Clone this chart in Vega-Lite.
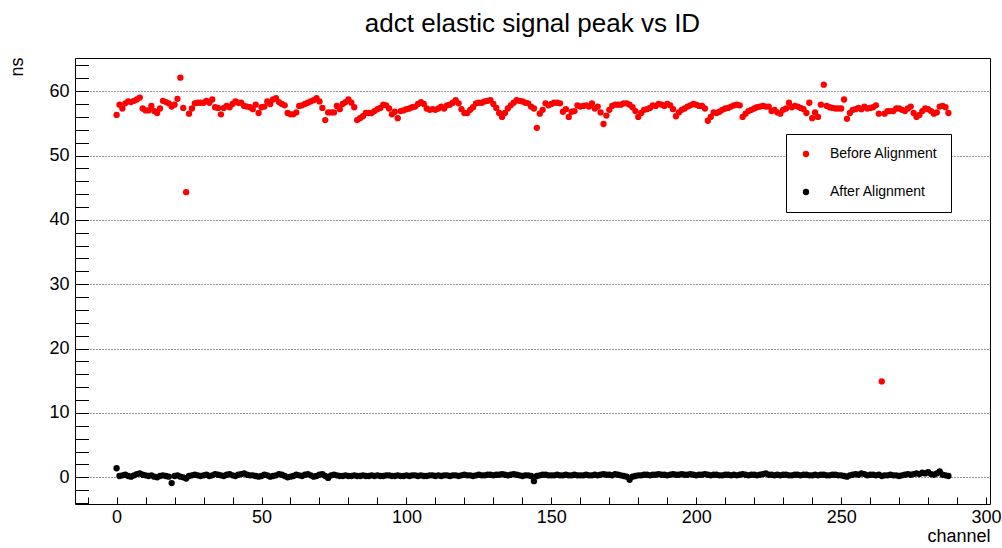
{
"$schema": "https://vega.github.io/schema/vega-lite/v6.json",
"width": 915, "height": 446,
"autosize": {"type": "none"},
"padding": {"left": 75, "top": 58, "right": 12, "bottom": 44},
"background": "white",
"title": {"text": "adct elastic signal peak vs ID", "fontSize": 26, "font": "Liberation Sans", "fontWeight": "normal", "anchor": "middle", "baseline": "alphabetic", "offset": -2, "color": "black"},
"config": {"view": {"stroke": "black"}, "font": "Liberation Sans"},
"datasets": {
"before": [
{"c":0,"v":56.3},{"c":1,"v":57.9},{"c":2,"v":57.3},{"c":3,"v":58.1},{"c":4,"v":58.4},{"c":5,"v":58.3},{"c":6,"v":58.5},{"c":7,"v":58.7},{"c":8,"v":59.0},{"c":9,"v":57.3},
{"c":10,"v":57.0},{"c":11,"v":57.0},{"c":12,"v":57.7},{"c":13,"v":56.9},{"c":14,"v":56.6},{"c":15,"v":57.3},{"c":16,"v":58.5},{"c":17,"v":58.3},{"c":18,"v":58.1},{"c":19,"v":57.6},
{"c":20,"v":57.9},{"c":21,"v":58.8},{"c":22,"v":62.1},{"c":23,"v":57.4},{"c":24,"v":44.3},{"c":25,"v":56.5},{"c":26,"v":57.3},{"c":27,"v":58.1},{"c":28,"v":58.2},{"c":29,"v":58.2},
{"c":30,"v":58.2},{"c":31,"v":58.5},{"c":32,"v":58.2},{"c":33,"v":58.7},{"c":34,"v":57.5},{"c":35,"v":57.4},{"c":36,"v":56.4},{"c":37,"v":57.4},{"c":38,"v":57.7},{"c":39,"v":57.5},
{"c":40,"v":58.0},{"c":41,"v":58.4},{"c":42,"v":58.2},{"c":43,"v":58.2},{"c":44,"v":57.7},{"c":45,"v":57.6},{"c":46,"v":57.5},{"c":47,"v":57.2},{"c":48,"v":57.9},{"c":49,"v":56.6},
{"c":50,"v":57.5},{"c":51,"v":57.6},{"c":52,"v":58.4},{"c":53,"v":58.0},{"c":54,"v":58.7},{"c":55,"v":58.9},{"c":56,"v":58.3},{"c":57,"v":58.0},{"c":58,"v":57.8},{"c":59,"v":56.6},
{"c":60,"v":56.4},{"c":61,"v":56.4},{"c":62,"v":56.7},{"c":63,"v":57.7},{"c":64,"v":57.8},{"c":65,"v":58.0},{"c":66,"v":58.2},{"c":67,"v":58.4},{"c":68,"v":58.6},{"c":69,"v":58.9},
{"c":70,"v":58.4},{"c":71,"v":57.4},{"c":72,"v":55.5},{"c":73,"v":56.7},{"c":74,"v":56.7},{"c":75,"v":56.7},{"c":76,"v":57.7},{"c":77,"v":57.2},{"c":78,"v":58.0},{"c":79,"v":58.3},
{"c":80,"v":58.7},{"c":81,"v":58.2},{"c":82,"v":57.5},{"c":83,"v":55.5},{"c":84,"v":55.8},{"c":85,"v":56.1},{"c":86,"v":56.6},{"c":87,"v":56.6},{"c":88,"v":56.6},{"c":89,"v":56.9},
{"c":90,"v":57.2},{"c":91,"v":57.4},{"c":92,"v":57.9},{"c":93,"v":57.8},{"c":94,"v":57.3},{"c":95,"v":56.4},{"c":96,"v":56.8},{"c":97,"v":55.8},{"c":98,"v":56.9},{"c":99,"v":57.0},
{"c":100,"v":57.2},{"c":101,"v":57.3},{"c":102,"v":57.5},{"c":103,"v":57.6},{"c":104,"v":58.0},{"c":105,"v":58.3},{"c":106,"v":58.0},{"c":107,"v":57.3},{"c":108,"v":57.1},{"c":109,"v":57.2},
{"c":110,"v":57.1},{"c":111,"v":57.3},{"c":112,"v":57.6},{"c":113,"v":57.3},{"c":114,"v":57.8},{"c":115,"v":57.9},{"c":116,"v":58.2},{"c":117,"v":58.6},{"c":118,"v":58.1},{"c":119,"v":57.2},
{"c":120,"v":56.6},{"c":121,"v":56.6},{"c":122,"v":57.1},{"c":123,"v":57.5},{"c":124,"v":58.1},{"c":125,"v":58.2},{"c":126,"v":58.2},{"c":127,"v":58.4},{"c":128,"v":58.5},{"c":129,"v":58.6},
{"c":130,"v":58.0},{"c":131,"v":57.4},{"c":132,"v":56.6},{"c":133,"v":56.0},{"c":134,"v":56.6},{"c":135,"v":57.3},{"c":136,"v":57.8},{"c":137,"v":58.2},{"c":138,"v":58.6},{"c":139,"v":58.5},
{"c":140,"v":58.4},{"c":141,"v":58.2},{"c":142,"v":58.1},{"c":143,"v":57.6},{"c":144,"v":57.3},{"c":145,"v":54.3},{"c":146,"v":56.5},{"c":147,"v":57.1},{"c":148,"v":58.1},{"c":149,"v":57.8},
{"c":150,"v":58.0},{"c":151,"v":58.2},{"c":152,"v":58.2},{"c":153,"v":58.1},{"c":154,"v":56.8},{"c":155,"v":57.2},{"c":156,"v":56.0},{"c":157,"v":56.8},{"c":158,"v":56.9},{"c":159,"v":57.8},
{"c":160,"v":57.6},{"c":161,"v":57.7},{"c":162,"v":57.8},{"c":163,"v":57.6},{"c":164,"v":58.1},{"c":165,"v":57.3},{"c":166,"v":57.6},{"c":167,"v":56.7},{"c":168,"v":54.9},{"c":169,"v":56.2},
{"c":170,"v":57.1},{"c":171,"v":57.7},{"c":172,"v":57.9},{"c":173,"v":57.9},{"c":174,"v":57.9},{"c":175,"v":58.1},{"c":176,"v":58.1},{"c":177,"v":57.9},{"c":178,"v":57.5},{"c":179,"v":56.9},
{"c":180,"v":56.0},{"c":181,"v":56.6},{"c":182,"v":57.1},{"c":183,"v":57.2},{"c":184,"v":57.4},{"c":185,"v":57.8},{"c":186,"v":57.7},{"c":187,"v":58.0},{"c":188,"v":57.9},{"c":189,"v":57.7},
{"c":190,"v":58.0},{"c":191,"v":57.8},{"c":192,"v":57.2},{"c":193,"v":56.1},{"c":194,"v":56.7},{"c":195,"v":57.1},{"c":196,"v":57.3},{"c":197,"v":57.6},{"c":198,"v":57.8},{"c":199,"v":58.0},
{"c":200,"v":57.9},{"c":201,"v":57.7},{"c":202,"v":57.7},{"c":203,"v":57.3},{"c":204,"v":55.4},{"c":205,"v":56.0},{"c":206,"v":56.7},{"c":207,"v":56.6},{"c":208,"v":56.8},{"c":209,"v":57.1},
{"c":210,"v":57.3},{"c":211,"v":57.4},{"c":212,"v":57.6},{"c":213,"v":57.8},{"c":214,"v":57.9},{"c":215,"v":57.8},{"c":216,"v":56.0},{"c":217,"v":56.5},{"c":218,"v":56.9},{"c":219,"v":57.1},
{"c":220,"v":57.3},{"c":221,"v":57.5},{"c":222,"v":57.6},{"c":223,"v":57.7},{"c":224,"v":57.6},{"c":225,"v":57.6},{"c":226,"v":56.9},{"c":227,"v":57.1},{"c":228,"v":56.7},{"c":229,"v":56.5},
{"c":230,"v":57.1},{"c":231,"v":57.3},{"c":232,"v":58.2},{"c":233,"v":57.5},{"c":234,"v":57.7},{"c":235,"v":57.6},{"c":236,"v":57.4},{"c":237,"v":57.2},{"c":238,"v":56.6},{"c":239,"v":58.2},
{"c":240,"v":55.8},{"c":241,"v":56.7},{"c":242,"v":56.0},{"c":243,"v":57.9},{"c":244,"v":61.0},{"c":245,"v":57.7},{"c":246,"v":57.5},{"c":247,"v":57.4},{"c":248,"v":57.3},{"c":249,"v":57.3},
{"c":250,"v":57.3},{"c":251,"v":58.7},{"c":252,"v":55.7},{"c":253,"v":56.6},{"c":254,"v":57.1},{"c":255,"v":57.2},{"c":256,"v":57.4},{"c":257,"v":57.2},{"c":258,"v":57.6},{"c":259,"v":57.3},
{"c":260,"v":57.4},{"c":261,"v":57.5},{"c":262,"v":57.8},{"c":263,"v":56.5},{"c":264,"v":14.9},{"c":265,"v":56.5},{"c":266,"v":56.9},{"c":267,"v":56.9},{"c":268,"v":56.9},{"c":269,"v":57.3},
{"c":270,"v":57.3},{"c":271,"v":57.1},{"c":272,"v":56.9},{"c":273,"v":57.3},{"c":274,"v":57.6},{"c":275,"v":56.6},{"c":276,"v":56.0},{"c":277,"v":56.3},{"c":278,"v":56.9},{"c":279,"v":57.3},
{"c":280,"v":57.2},{"c":281,"v":56.9},{"c":282,"v":56.5},{"c":283,"v":56.7},{"c":284,"v":57.6},{"c":285,"v":57.7},{"c":286,"v":57.5},{"c":287,"v":56.6}
],
"after": [
{"c":0,"v":1.4},{"c":1,"v":0.2},{"c":2,"v":0.3},{"c":3,"v":0.4},{"c":4,"v":0.2},{"c":5,"v":0.1},{"c":6,"v":0.3},{"c":7,"v":0.5},{"c":8,"v":0.6},{"c":9,"v":0.4},
{"c":10,"v":0.3},{"c":11,"v":0.2},{"c":12,"v":0.3},{"c":13,"v":0.1},{"c":14,"v":0.0},{"c":15,"v":0.2},{"c":16,"v":0.3},{"c":17,"v":0.2},{"c":18,"v":0.1},{"c":19,"v":-0.9},
{"c":20,"v":0.2},{"c":21,"v":0.3},{"c":22,"v":0.1},{"c":23,"v":0.0},{"c":24,"v":-0.2},{"c":25,"v":0.2},{"c":26,"v":0.3},{"c":27,"v":0.4},{"c":28,"v":0.3},{"c":29,"v":0.2},
{"c":30,"v":0.3},{"c":31,"v":0.4},{"c":32,"v":0.2},{"c":33,"v":0.3},{"c":34,"v":0.5},{"c":35,"v":0.4},{"c":36,"v":0.3},{"c":37,"v":0.2},{"c":38,"v":0.4},{"c":39,"v":0.5},
{"c":40,"v":0.3},{"c":41,"v":0.2},{"c":42,"v":0.4},{"c":43,"v":0.5},{"c":44,"v":0.6},{"c":45,"v":0.4},{"c":46,"v":0.3},{"c":47,"v":0.3},{"c":48,"v":0.2},{"c":49,"v":0.1},
{"c":50,"v":0.2},{"c":51,"v":0.4},{"c":52,"v":0.3},{"c":53,"v":0.1},{"c":54,"v":0.2},{"c":55,"v":0.3},{"c":56,"v":0.5},{"c":57,"v":0.4},{"c":58,"v":0.2},{"c":59,"v":0.0},
{"c":60,"v":0.1},{"c":61,"v":0.2},{"c":62,"v":0.4},{"c":63,"v":0.3},{"c":64,"v":0.2},{"c":65,"v":0.4},{"c":66,"v":0.5},{"c":67,"v":0.3},{"c":68,"v":0.1},{"c":69,"v":0.2},
{"c":70,"v":0.4},{"c":71,"v":0.5},{"c":72,"v":0.2},{"c":73,"v":-0.1},{"c":74,"v":0.3},{"c":75,"v":0.4},{"c":76,"v":0.3},{"c":77,"v":0.2},{"c":78,"v":0.2},{"c":79,"v":0.3},
{"c":80,"v":0.2},{"c":81,"v":0.2},{"c":82,"v":0.3},{"c":83,"v":0.2},{"c":84,"v":0.2},{"c":85,"v":0.3},{"c":86,"v":0.2},{"c":87,"v":0.2},{"c":88,"v":0.3},{"c":89,"v":0.2},
{"c":90,"v":0.3},{"c":91,"v":0.2},{"c":92,"v":0.2},{"c":93,"v":0.3},{"c":94,"v":0.3},{"c":95,"v":0.2},{"c":96,"v":0.2},{"c":97,"v":0.3},{"c":98,"v":0.2},{"c":99,"v":0.2},
{"c":100,"v":0.3},{"c":101,"v":0.2},{"c":102,"v":0.3},{"c":103,"v":0.3},{"c":104,"v":0.2},{"c":105,"v":0.3},{"c":106,"v":0.2},{"c":107,"v":0.2},{"c":108,"v":0.3},{"c":109,"v":0.3},
{"c":110,"v":0.2},{"c":111,"v":0.3},{"c":112,"v":0.2},{"c":113,"v":0.3},{"c":114,"v":0.3},{"c":115,"v":0.2},{"c":116,"v":0.3},{"c":117,"v":0.3},{"c":118,"v":0.2},{"c":119,"v":0.3},
{"c":120,"v":0.4},{"c":121,"v":0.3},{"c":122,"v":0.3},{"c":123,"v":0.2},{"c":124,"v":0.3},{"c":125,"v":0.4},{"c":126,"v":0.3},{"c":127,"v":0.3},{"c":128,"v":0.4},{"c":129,"v":0.4},
{"c":130,"v":0.3},{"c":131,"v":0.4},{"c":132,"v":0.4},{"c":133,"v":0.5},{"c":134,"v":0.4},{"c":135,"v":0.3},{"c":136,"v":0.4},{"c":137,"v":0.5},{"c":138,"v":0.4},{"c":139,"v":0.3},
{"c":140,"v":0.2},{"c":141,"v":0.3},{"c":142,"v":0.3},{"c":143,"v":0.2},{"c":144,"v":-0.6},{"c":145,"v":0.2},{"c":146,"v":0.3},{"c":147,"v":0.4},{"c":148,"v":0.4},{"c":149,"v":0.3},
{"c":150,"v":0.3},{"c":151,"v":0.3},{"c":152,"v":0.4},{"c":153,"v":0.3},{"c":154,"v":0.3},{"c":155,"v":0.4},{"c":156,"v":0.3},{"c":157,"v":0.3},{"c":158,"v":0.4},{"c":159,"v":0.3},
{"c":160,"v":0.3},{"c":161,"v":0.3},{"c":162,"v":0.4},{"c":163,"v":0.3},{"c":164,"v":0.3},{"c":165,"v":0.4},{"c":166,"v":0.3},{"c":167,"v":0.4},{"c":168,"v":0.5},{"c":169,"v":0.4},
{"c":170,"v":0.4},{"c":171,"v":0.3},{"c":172,"v":0.5},{"c":173,"v":0.4},{"c":174,"v":0.3},{"c":175,"v":0.2},{"c":176,"v":0.1},{"c":177,"v":-0.4},{"c":178,"v":0.1},{"c":179,"v":0.2},
{"c":180,"v":0.3},{"c":181,"v":0.3},{"c":182,"v":0.4},{"c":183,"v":0.4},{"c":184,"v":0.3},{"c":185,"v":0.4},{"c":186,"v":0.4},{"c":187,"v":0.5},{"c":188,"v":0.4},{"c":189,"v":0.4},
{"c":190,"v":0.3},{"c":191,"v":0.4},{"c":192,"v":0.5},{"c":193,"v":0.4},{"c":194,"v":0.4},{"c":195,"v":0.5},{"c":196,"v":0.4},{"c":197,"v":0.4},{"c":198,"v":0.5},{"c":199,"v":0.4},
{"c":200,"v":0.3},{"c":201,"v":0.4},{"c":202,"v":0.4},{"c":203,"v":0.5},{"c":204,"v":0.4},{"c":205,"v":0.3},{"c":206,"v":0.4},{"c":207,"v":0.4},{"c":208,"v":0.3},{"c":209,"v":0.3},
{"c":210,"v":0.4},{"c":211,"v":0.4},{"c":212,"v":0.3},{"c":213,"v":0.4},{"c":214,"v":0.3},{"c":215,"v":0.4},{"c":216,"v":0.5},{"c":217,"v":0.4},{"c":218,"v":0.3},{"c":219,"v":0.4},
{"c":220,"v":0.4},{"c":221,"v":0.3},{"c":222,"v":0.4},{"c":223,"v":0.5},{"c":224,"v":0.6},{"c":225,"v":0.4},{"c":226,"v":0.4},{"c":227,"v":0.3},{"c":228,"v":0.4},{"c":229,"v":0.3},
{"c":230,"v":0.4},{"c":231,"v":0.4},{"c":232,"v":0.3},{"c":233,"v":0.3},{"c":234,"v":0.4},{"c":235,"v":0.4},{"c":236,"v":0.3},{"c":237,"v":0.4},{"c":238,"v":0.4},{"c":239,"v":0.3},
{"c":240,"v":0.3},{"c":241,"v":0.4},{"c":242,"v":0.3},{"c":243,"v":0.4},{"c":244,"v":0.4},{"c":245,"v":0.3},{"c":246,"v":0.3},{"c":247,"v":0.4},{"c":248,"v":0.4},{"c":249,"v":0.3},
{"c":250,"v":0.3},{"c":251,"v":0.2},{"c":252,"v":0.1},{"c":253,"v":0.3},{"c":254,"v":0.4},{"c":255,"v":0.5},{"c":256,"v":0.4},{"c":257,"v":0.6},{"c":258,"v":0.5},{"c":259,"v":0.3},
{"c":260,"v":0.4},{"c":261,"v":0.4},{"c":262,"v":0.3},{"c":263,"v":0.4},{"c":264,"v":0.2},{"c":265,"v":0.3},{"c":266,"v":0.3},{"c":267,"v":0.4},{"c":268,"v":0.3},{"c":269,"v":0.3},
{"c":270,"v":0.2},{"c":271,"v":0.3},{"c":272,"v":0.4},{"c":273,"v":0.5},{"c":274,"v":0.4},{"c":275,"v":0.5},{"c":276,"v":0.6},{"c":277,"v":0.5},{"c":278,"v":0.7},{"c":279,"v":0.6},
{"c":280,"v":0.8},{"c":281,"v":0.5},{"c":282,"v":0.4},{"c":283,"v":0.6},{"c":284,"v":0.9},{"c":285,"v":0.4},{"c":286,"v":0.3},{"c":287,"v":0.2}
]
},
"encoding": {
  "x": {"field": "c", "type": "quantitative",
    "scale": {"domain": [-14.35, 301.35], "nice": false, "zero": false},
    "axis": {"values": [-10,0,10,20,30,40,50,60,70,80,90,100,110,120,130,140,150,160,170,180,190,200,210,220,230,240,250,260,270,280,290,300],
      "labelExpr": "datum.value % 50 === 0 ? datum.label : ''",
      "tickSize": -7,
      "encode": {"ticks": {"update": {"y2": {"signal": "datum.value % 50 === 0 ? -13 : -7"}}}},
      "labelPadding": 11, "grid": false, "domain": false, "tickColor": "black",
      "labelFontSize": 18, "labelColor": "black", "labelFont": "Liberation Sans", "labelFlush": false, "labelOverlap": false,
      "title": "channel", "titleAnchor": "end", "titleAlign": "right", "titleX": 915, "titleY": 37, "titleBaseline": "alphabetic",
      "titleFontSize": 18, "titleFontWeight": "normal", "titleColor": "black", "titleFont": "Liberation Sans"}},
  "y": {"field": "v", "type": "quantitative",
    "scale": {"domain": [-4.15, 65.15], "nice": false, "zero": false},
    "axis": {"values": [-4,-2,0,2,4,6,8,10,12,14,16,18,20,22,24,26,28,30,32,34,36,38,40,42,44,46,48,50,52,54,56,58,60,62,64],
      "labelExpr": "datum.value % 10 === 0 ? datum.label : ''",
      "tickSize": -13.5,
      "encode": {"ticks": {"update": {"x2": {"signal": "datum.value % 10 === 0 ? 27 : 13.5"}}}},
      "labelPadding": 19.5, "grid": true, "gridDash": [1, 2], "gridColor": "#333",
      "gridOpacity": {"condition": {"test": "datum.value % 10 === 0", "value": 1}, "value": 0},
      "domain": false, "tickColor": "black",
      "labelFontSize": 18, "labelColor": "black", "labelFont": "Liberation Sans", "labelFlush": false, "labelOverlap": false,
      "title": "ns", "titleAnchor": "end", "titleAlign": "right", "titleAngle": -90, "titleX": -53, "titleY": -1, "titleBaseline": "alphabetic",
      "titleFontSize": 18, "titleFontWeight": "normal", "titleColor": "black", "titleFont": "Liberation Sans"}}
},
"layer": [
  {"data": {"name": "before"}, "mark": {"type": "circle", "size": 40, "opacity": 1},
   "encoding": {"color": {"datum": "Before Alignment", "type": "nominal",
     "scale": {"domain": ["Before Alignment", "After Alignment"], "range": ["#ff0000", "#000000"]},
     "legend": {"orient": "none", "legendX": 711, "legendY": 76, "title": null, "padding": 13,
       "strokeColor": "black", "fillColor": "white", "symbolType": "circle", "symbolSize": 40,
       "labelFontSize": 14, "labelFont": "Liberation Sans", "labelColor": "black",
       "rowPadding": 24, "labelOffset": 17}}}},
  {"data": {"name": "after"}, "mark": {"type": "circle", "size": 40, "opacity": 1},
   "encoding": {"color": {"datum": "After Alignment", "type": "nominal"}}}
]
}
